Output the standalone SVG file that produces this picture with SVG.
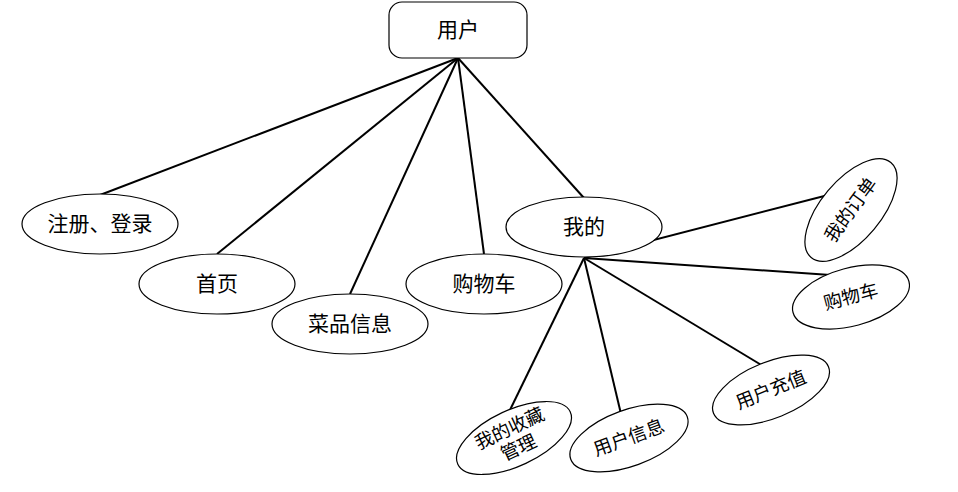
<svg xmlns="http://www.w3.org/2000/svg" width="958" height="492" viewBox="0 0 958 492">
<style>
.n{fill:#fff;stroke:#000;stroke-width:1.2}
.t{font-family:"Liberation Serif","Noto Sans CJK SC",serif;font-size:21px;fill:#000;text-anchor:middle;dominant-baseline:central}
.s{font-size:18.5px}
.c{stroke:#000;stroke-width:2;fill:none}
</style>
<rect width="958" height="492" fill="#fff"/>
<g id="connectors">
<line class="c" x1="458" y1="58" x2="100" y2="195"/>
<line class="c" x1="458" y1="58" x2="217" y2="254"/>
<line class="c" x1="458" y1="58" x2="350" y2="294"/>
<line class="c" x1="458" y1="58" x2="484" y2="254"/>
<line class="c" x1="458" y1="58" x2="584" y2="198"/>
<line class="c" x1="584" y1="258" x2="836" y2="193"/>
<line class="c" x1="584" y1="258" x2="845" y2="276"/>
<line class="c" x1="584" y1="258" x2="763" y2="366"/>
<line class="c" x1="584" y1="258" x2="621" y2="414"/>
<line class="c" x1="584" y1="258" x2="509" y2="412"/>
</g>
<g id="root"><rect class="n" x="389" y="2" width="138" height="56" rx="13"/><text class="t" x="458" y="30">用户</text></g>
<g id="n1"><ellipse class="n" cx="100" cy="224" rx="78" ry="30"/><text class="t" x="100" y="224">注册、登录</text></g>
<g id="n2"><ellipse class="n" cx="217" cy="284" rx="78" ry="30"/><text class="t" x="217" y="284">首页</text></g>
<g id="n3"><ellipse class="n" cx="350" cy="324" rx="78" ry="30"/><text class="t" x="350" y="324">菜品信息</text></g>
<g id="n4"><ellipse class="n" cx="484" cy="284" rx="78" ry="30"/><text class="t" x="484" y="284">购物车</text></g>
<g id="n5"><ellipse class="n" cx="584" cy="227" rx="78" ry="30"/><text class="t" x="584" y="227">我的</text></g>
<g id="c1" transform="translate(851,210) rotate(-50)"><ellipse class="n" cx="0" cy="0" rx="62" ry="30"/><text class="t s" x="0" y="0" transform="rotate(-4)">我的订单</text></g>
<g id="c2" transform="translate(851,297) rotate(-15)"><ellipse class="n" cx="0" cy="0" rx="60" ry="29"/><text class="t s" x="0" y="0">购物车</text></g>
<g id="c3" transform="translate(771,390) rotate(-22)"><ellipse class="n" cx="0" cy="0" rx="62" ry="28"/><text class="t s" x="0" y="0">用户充值</text></g>
<g id="c4" transform="translate(629,438) rotate(-20)"><ellipse class="n" cx="0" cy="0" rx="62" ry="28"/><text class="t s" x="0" y="0">用户信息</text></g>
<g id="c5" transform="translate(514,438) rotate(-25)"><ellipse class="n" cx="0" cy="0" rx="62" ry="28"/><text class="t s" x="0" y="-10">我的收藏</text><text class="t s" x="0" y="11">管理</text></g>
</svg>
